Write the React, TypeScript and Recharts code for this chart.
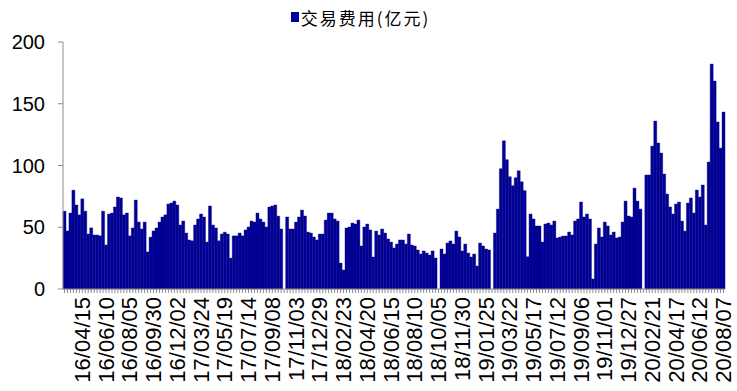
import React from 'react';
import { BarChart, Bar, XAxis, YAxis, Legend } from 'recharts';

// weekly trading fees, 100m yuan; null = holiday week with no data
const feeA = [
  63, 47, 61.5, 80, 68, 60, 73, 63, 44.5, 49.5, 43.7, 43.7, 43, 63, 35.6, 60.7, 61.5, 66.4, 74.5, 73.7,
  60, 61.5, 43, 49.4, 72, 54.2, 48.6, 54.2, 30, 42, 47, 49.4, 54.2, 58.3, 60, 68.8, 69.6, 71.2, 68, 51.8,
  55, 45.3, 39.7, 39, 51.8, 56.7, 60.7, 58.3, 38, 67.2, 51.8, 49.4, 39, 44.5, 46, 44.5, 25, 43, 43, 45.3,
  43, 47.8, 50.2, 55, 54.2, 61.5, 56.7, 54.2, 50.2, 66.4, 67.2, 68, 59, 48.6,
];
const feeB = [
  58.3, 48.6, 48.6, 54.2, 58.3, 63.9, 59.1, 46.1, 45.3, 42.1, 39.7, 44.5, 44.5, 55.8, 61.5, 61.5, 56.7,
  55, 21, 15.4, 49.4, 50.2, 53.4, 52.6, 55.8, 34.8, 50.2, 52.6, 47.8, 25.9, 46.9, 43.7, 48.6, 45.3, 40.5,
  38, 33.2, 36.4, 39.7, 39.7, 36.4, 44.5, 35.6, 34.8, 31.6, 28.3, 30.8, 29.1, 27.5, 30.8, 25.1,
];
const feeC = [32.4, 28.3, 37.2, 38.9, 36.4, 46.9, 42.1, 30.8, 36.4, 29.1, 25.9, 28.3, 18.6, 37.2, 34.8, 32.4, 31.6];
const feeD = [
  45.3, 64.7, 97.4, 120, 104.7, 90.9, 83.6, 90.1, 95.7, 86.8, 79.6, 26.1, 60.7, 56.7, 51, 51, 38, 52.6,
  53.4, 51.8, 55, 41.3, 42.1, 42.9, 42.9, 46.1, 43.7, 55, 56.7, 70.4, 58.3, 60.7, 56.7, 8.1, 36.4, 49.4,
  42.1, 54.2, 51, 43.7, 46.1, 41.3, 42.1, 54.2, 71.2, 59.1, 58.3, 81.7, 71.2, 64.7,
];
const feeE = [
  92.3, 92.3, 115.7, 136, 118.2, 110.1, 93.1, 76.9, 66.4, 60.7, 68.8, 70.4, 55, 46.9, 69.6, 73.7, 61.5,
  80.1, 74.5, 84.2, 51.8, 102.8, 182.1, 168.4, 135.2, 114.1, 143.3,
];
const fees: (number | null)[] = [...feeA, null, ...feeB, null, ...feeC, null, ...feeD, null, ...feeE];

const tickLabels = [
  '16/04/15', '16/06/10', '16/08/05', '16/09/30', '16/12/02', '17/03/24', '17/05/19', '17/07/14',
  '17/09/08', '17/11/03', '17/12/29', '18/02/23', '18/04/20', '18/06/15', '18/08/10', '18/10/05',
  '18/11/30', '19/01/25', '19/03/22', '19/05/17', '19/07/12', '19/09/06', '19/11/01', '19/12/27',
  '20/02/21', '20/04/17', '20/06/12', '20/08/07',
];
const FIRST_TICK = 6;
const TICK_STEP = 8;

const data = fees.map((fee, week) => ({ week, fee }));

const labelFor = (week: number) => {
  const k = (week - FIRST_TICK) / TICK_STEP;
  return Number.isInteger(k) && k >= 0 ? tickLabels[k] || '' : '';
};

const BAR_COLOR = '#000099';
const AXIS_COLOR = '#8c8c8c';
const FONT = '"Liberation Sans", Arial, sans-serif';

const DateTick = ({ x, y, payload }: any) => {
  const label = labelFor(payload.value);
  if (!label) return null;
  return (
    <text
      x={x}
      y={y}
      transform={`rotate(-90 ${x} ${y})`}
      textAnchor="end"
      dominantBaseline="central"
      fontSize={22}
      fontFamily={FONT}
      fill="#000"
    >
      {label}
    </text>
  );
};

const LegendBox = () => (
  <div
    style={{
      height: 24,
      display: 'flex',
      alignItems: 'center',
      justifyContent: 'center',
      fontFamily: '"Noto Sans CJK SC", sans-serif',
      fontSize: 17,
      letterSpacing: 2,
      color: '#000',
      paddingRight: 4,
    }}
  >
    <span style={{ width: 8, height: 10, background: BAR_COLOR, marginRight: 2 }} />
    <span>交易费用(亿元)</span>
  </div>
);

export default function App() {
  return (
    <div style={{ position: 'absolute', left: 0, top: 0, background: '#fff' }}>
      <BarChart
        width={737}
        height={391}
        data={data}
        margin={{ top: 18, right: 12, left: 0, bottom: 0 }}
        barCategoryGap={0}
      >
        <Legend verticalAlign="top" content={<LegendBox />} wrapperStyle={{ top: 5 }} />
        <XAxis
          dataKey="week"
          interval={0}
          height={102}
          axisLine={{ stroke: AXIS_COLOR }}
          tickLine={{ stroke: AXIS_COLOR }}
          tickSize={4}
          tickMargin={4}
          tick={<DateTick />}
        />
        <YAxis
          width={63}
          domain={[0, 200]}
          ticks={[0, 50, 100, 150, 200]}
          axisLine={{ stroke: AXIS_COLOR }}
          tickLine={{ stroke: AXIS_COLOR }}
          tickSize={5}
          tickMargin={13}
          tick={{ fontSize: 20, fontFamily: FONT, fill: '#000' }}
        />
        <Bar dataKey="fee" fill={BAR_COLOR} stroke="#00007a" strokeWidth={0.4} isAnimationActive={false} />
      </BarChart>
    </div>
  );
}
